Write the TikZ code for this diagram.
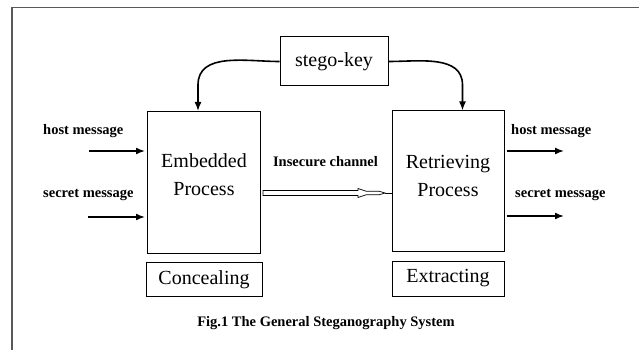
\documentclass[tikz,border=0pt]{standalone}
\usepackage{fontspec}
\setmainfont{Liberation Serif}
\usetikzlibrary{arrows.meta}
\usetikzlibrary{positioning}
\usetikzlibrary{calc}
\tikzset{
  procbox/.style = {draw, line width=1pt, minimum width=113pt,
    minimum height=142pt, inner sep=0pt},
  proctext/.style = {align=center, inner sep=0pt,
    font=\fontsize{20}{28}\selectfont},
  tagbox/.style = {draw, line width=1pt, minimum width=116pt,
    minimum height=34pt, font=\fontsize{20}{24}\selectfont},
  msglabel/.style = {anchor=west, inner sep=0pt,
    font=\bfseries\fontsize{14.5}{17}\selectfont},
  msgarrow/.style = {line width=1.6pt, -{Latex[length=9pt,width=7pt]}},
  keyarrow/.style = {line width=1.6pt, -{Latex[length=9pt,width=7pt]}}
}

\begin{document}
\begin{tikzpicture}[x=1pt,y=-1pt]
\useasboundingbox (0,0) rectangle (639,350);
% frame, only top and left edge show
\draw[line width=1.4pt, black!65] (12,350) -- (12,7.5) -- (639,7.5);

\node [draw, line width=1pt, minimum width=108pt, minimum height=49pt,
  font=\fontsize{20}{24}\selectfont] (key) at (334,61.5) {stego-key};

\node [procbox] (embed) at (204,182.5) {};
\node [proctext] (embedtxt) at ([yshift=8pt]embed.center) {Embedded\\Process};
\node [procbox, minimum width=112pt, minimum height=140pt] (retr) at (448,181) {};
\node [proctext] (retrtxt) at ([yshift=5pt]retr.center) {Retrieving\\Process};

\node [tagbox] (conceal) [below=8pt of embed] {Concealing};
\node [tagbox, minimum width=112pt, minimum height=35pt] (extract) [below=9pt of retr] {Extracting};

% key to both processes
\coordinate (lbend) at (198,85);
\coordinate (rbend) at (462.5,85);
\draw[keyarrow] (key.west) to[out=180,in=90] (lbend) -- (lbend |- embed.north);
\draw[keyarrow] (key.east) to[out=0,in=90] (rbend) -- (rbend |- retr.north);

% inputs
\coordinate (hostin) at (89,151);
\coordinate (secretin) at (88,217);
\node[msglabel] (hostinlbl) at (43,131) {host message};
\node[msglabel] (secretinlbl) at (43,195) {secret message};
\draw[msgarrow, shorten >=2pt] (hostin) -- (hostin -| embed.west);
\draw[msgarrow, shorten >=2pt] (secretin) -- (secretin -| embed.west);

% outputs
\coordinate (hostout) at (564,151);
\coordinate (secretout) at (564,216);
\node[msglabel] (hostoutlbl) at (511,131) {host message};
\node[msglabel] (secretoutlbl) at (515,195) {secret message};
\draw[msgarrow, shorten <=2pt] (hostout -| retr.east) -- (hostout);
\draw[msgarrow, shorten <=2pt] (secretout -| retr.east) -- (secretout);

% insecure channel, hollow arrow
\node[msglabel, anchor=center] (chanlbl) at (325.5,162) {Insecure channel};
\coordinate (chanA) at ([shift={(2,10.5)}]embed.east);
\coordinate (chantip) at ([xshift=122pt]chanA);
\draw[line width=0.7pt] (chanA) ++(0,-2.5) -- ++(95,0) -- ++(0,-2) -- ++(8,2.7)
  -- ++(13,0) -- (chantip) -- ++(-6,1.8) -- ++(-13,0) -- ++(-8,2.7)
  -- ++(0,-2) -- ++(-95,0) -- cycle;
\draw[line width=0.7pt] (chantip) -- (chantip -| retr.west);

\node[font=\bfseries\fontsize{14.5}{17}\selectfont] (caption) at (326,323)
  {Fig.1 The General Steganography System};
\end{tikzpicture}
\end{document}
